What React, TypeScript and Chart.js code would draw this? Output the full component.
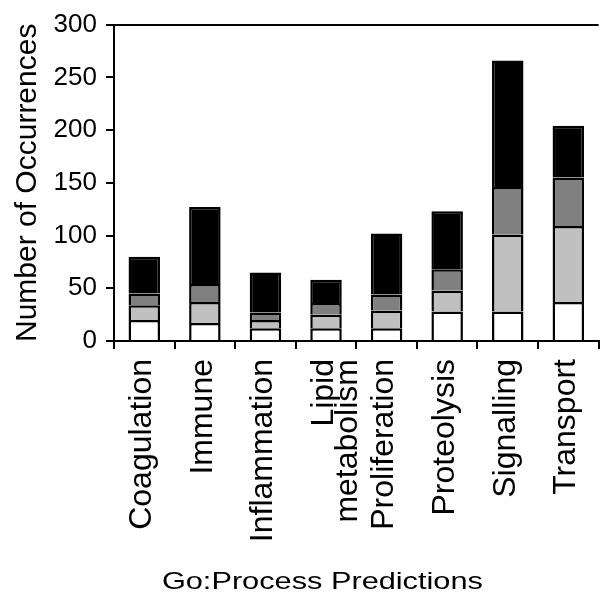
import React, { useEffect, useRef } from "react";
import { Chart, registerables } from "chart.js";

Chart.register(...registerables);

const categories: (string | string[])[] = [
  "Coagulation",
  "Immune",
  "Inflammation",
  ["Lipid", "metabolism"],
  "Proliferation",
  "Proteolysis",
  "Signalling",
  "Transport",
];
const whiteSeg = [20, 17, 12, 12, 12, 28, 28, 37];
const lightSeg = [14, 20, 8, 13, 17, 20, 73, 72];
const darkSeg = [11, 17, 7, 11, 15, 20, 45, 46];
const blackSeg = [35, 73, 38, 22, 58, 55, 120, 49];
const yMin = 0;
const yMax = 300;
const yStep = 50;
const xTitle = "Go:Process Predictions";
const yTitle = "Number of Occurrences";

const FONT = '"Liberation Sans", Arial, Helvetica, sans-serif';

const xTitlePlugin = {
  id: "xTitleStretched",
  afterDraw(chart: any) {
    const ctx = chart.ctx;
    const area = chart.chartArea;
    ctx.save();
    ctx.font = `24px ${FONT}`;
    ctx.fillStyle = "#000";
    ctx.textAlign = "center";
    ctx.textBaseline = "alphabetic";
    ctx.translate(area.left + (area.right - area.left) * 0.43, chart.height - 11);
    ctx.scale(1.28, 1);
    ctx.fillText(xTitle, 0, 0);
    ctx.restore();
  },
};

export default function App() {
  const ref = useRef<HTMLCanvasElement | null>(null);

  useEffect(() => {
    document.body.style.margin = "0";
    const canvas = ref.current;
    if (!canvas) return;
    const seg = (label: string, data: number[], color: string) => ({
      label,
      data,
      backgroundColor: color,
      borderColor: "#000",
      borderWidth: 2.5,
      borderSkipped: "start" as const,
      inflateAmount: 0,
      barPercentage: 0.52,
      categoryPercentage: 1,
    });
    const chart = new Chart(canvas, {
      type: "bar",
      data: {
        labels: categories as any,
        datasets: [
          seg("white", whiteSeg, "#ffffff"),
          seg("light", lightSeg, "#c0c0c0"),
          seg("dark", darkSeg, "#808080"),
          seg("black", blackSeg, "#000000"),
        ],
      },
      options: {
        animation: false,
        responsive: false,
        layout: { padding: { top: 24, left: 0, right: -3, bottom: 0 } },
        plugins: {
          legend: { display: false },
          tooltip: { enabled: false },
        },
        scales: {
          x: {
            stacked: true,
            afterFit: (s: any) => {
              s.height = 259;
            },
            border: { display: true, color: "#000", width: 2 },
            grid: {
              offset: true,
              drawOnChartArea: false,
              drawTicks: true,
              tickLength: 8,
              color: "#000",
              lineWidth: 2,
            },
            ticks: {
              autoSkip: false,
              maxRotation: 90,
              minRotation: 90,
              padding: 10,
              labelOffset: -2,
              color: "#000",
              font: { family: FONT, size: 32, lineHeight: 0.74 },
            },
          },
          y: {
            stacked: true,
            min: yMin,
            max: yMax,
            afterFit: (s: any) => {
              s.width = 114;
            },
            border: { display: true, color: "#000", width: 2 },
            grid: {
              drawOnChartArea: true,
              drawTicks: true,
              tickLength: 8,
              lineWidth: 2,
              color: (c: any) => (c.tick && c.tick.value === yMax ? "#000" : "rgba(0,0,0,0)"),
              tickColor: "#000",
            },
            ticks: {
              stepSize: yStep,
              padding: 9,
              color: "#000",
              font: { family: FONT, size: 26 },
            },
            title: {
              display: true,
              text: yTitle,
              color: "#000",
              padding: { top: 10, bottom: 0 },
              font: { family: FONT, size: 30 },
            },
          },
        },
      },
      plugins: [xTitlePlugin],
    });
    return () => chart.destroy();
  }, []);

  return (
    <div style={{ width: 602, height: 600 }}>
      <canvas ref={ref} width={602} height={600} style={{ display: "block" }} />
    </div>
  );
}
